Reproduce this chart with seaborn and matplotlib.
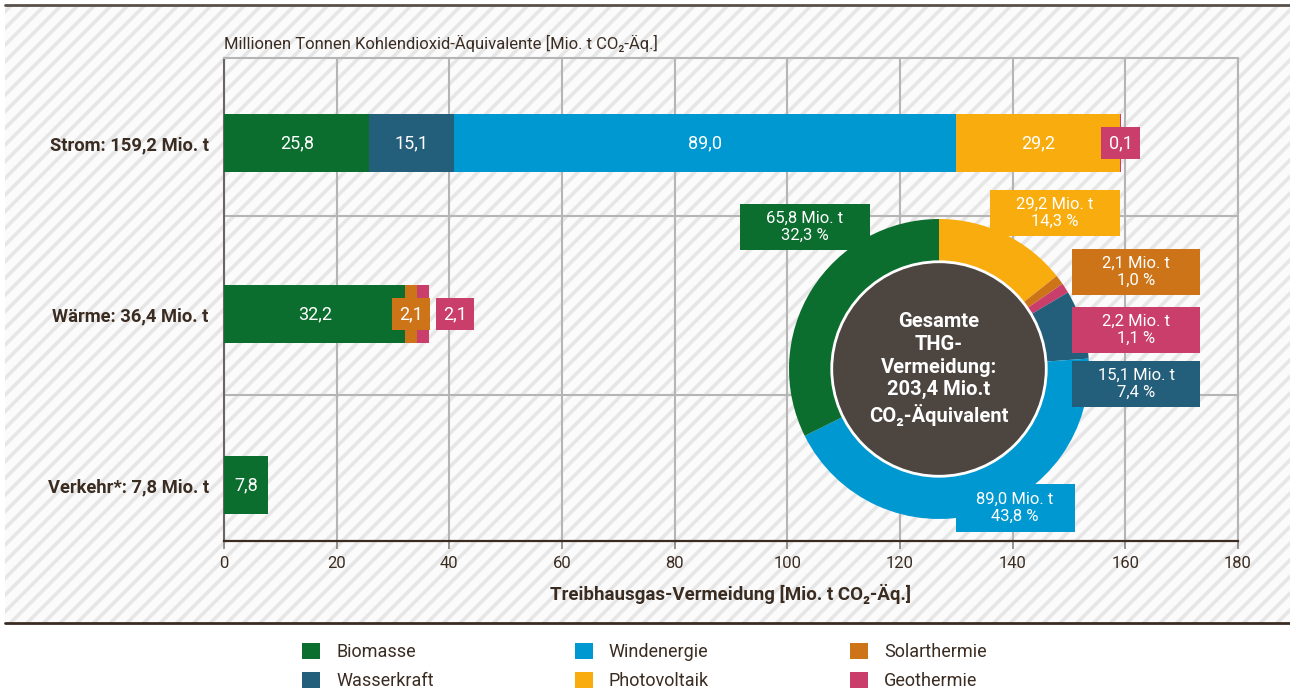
import matplotlib
matplotlib.use("Agg")
import matplotlib.pyplot as plt
from matplotlib.patches import Rectangle, Patch, Circle
from matplotlib.lines import Line2D
import seaborn as sns
import pandas as pd

# --- data -------------------------------------------------------------
categories = ["Strom: 159,2 Mio. t", "Wärme: 36,4 Mio. t", "Verkehr*: 7,8 Mio. t"]
sources = ["Biomasse", "Wasserkraft", "Windenergie", "Photovoltaik", "Solarthermie", "Geothermie"]
strom = [25.8, 15.1, 89.0, 29.2, 0.0, 0.1]
waerme = [32.2, 0.0, 0.0, 0.0, 2.1, 2.1]
verkehr = [7.8, 0.0, 0.0, 0.0, 0.0, 0.0]

donut_sources = ["Photovoltaik", "Solarthermie", "Geothermie", "Wasserkraft", "Windenergie", "Biomasse"]
donut_values = [29.2, 2.1, 2.2, 15.1, 89.0, 65.8]
donut_pct = ["14,3", "1,0", "1,1", "7,4", "43,8", "32,3"]
total_label = "203,4"

xticks = [0, 20, 40, 60, 80, 100, 120, 140, 160, 180]

colors = {
    "Biomasse": "#0b6e2f",
    "Wasserkraft": "#235e7a",
    "Windenergie": "#0098d1",
    "Photovoltaik": "#f8ac0d",
    "Solarthermie": "#cd7418",
    "Geothermie": "#c93e6a",
}
dark = "#3b2c22"
W, H = 1290, 693

sns.set_theme(style="white")
plt.rcParams["font.family"] = ["Roboto", "DejaVu Sans"]
plt.rcParams["hatch.linewidth"] = 2.6
plt.rcParams["hatch.color"] = "#e6e6e6"


def fx(x):
    return x / W


def fy(y):
    return 1 - y / H


rows = []
for cat, vals in zip(categories, [strom, waerme, verkehr]):
    cum = 0.0
    for src, v in zip(sources, vals):
        cum += v
        rows.append({"category": cat, "source": src, "value": v, "cum": cum})
df = pd.DataFrame(rows)

fig = plt.figure(figsize=(W / 100, H / 100), dpi=100)

# hatched background and the two rules
bg = Rectangle((fx(5), fy(623)), 1 - fx(5), fy(5) - fy(623), transform=fig.transFigure,
               facecolor="#fbfbfb", edgecolor="#e6e6e6", hatch="//", linewidth=0, zorder=-10)
fig.patches.append(bg)
fig.add_artist(Line2D([fx(5), 1], [fy(5), fy(5)], color="#5a504a", lw=2))
fig.add_artist(Line2D([fx(5), 1], [fy(623), fy(623)], color=dark, lw=2))

ax = fig.add_axes([fx(224), fy(541), fx(1238) - fx(224), fy(58) - fy(541)])
ax.set_facecolor("none")

# stacked bars: draw cumulative totals back to front
for src in reversed(sources):
    sub = df[(df["source"] == src) & (df["value"] > 0)]
    sns.barplot(data=sub, x="cum", y="category", order=categories, orient="h",
                color=colors[src], saturation=1, width=0.34, errorbar=None,
                linewidth=0, ax=ax, zorder=3)

label_shift = {("Wärme: 36,4 Mio. t", "Geothermie"): 5.6}
for _, r in df[df["value"] > 0].iterrows():
    yi = categories.index(r["category"])
    xc = r["cum"] - r["value"] / 2
    txt = f"{r['value']:.1f}".replace(".", ",")
    if r["value"] >= 5:
        ax.text(xc, yi, txt, ha="center", va="center", color="white", fontsize=13, zorder=5)
    else:
        xc += label_shift.get((r["category"], r["source"]), 0)
        ax.text(xc, yi, txt, ha="center", va="center", color="white", fontsize=13, zorder=6,
                bbox=dict(boxstyle="square,pad=0.4", fc=colors[r["source"]], ec="none"))

ax.set_xlim(0, 180)
ax.set_ylim(2.327, -0.497)
ax.set_xticks(xticks)
ax.set_xticklabels([str(t) for t in xticks])
ax.set_yticks([0.427, 1.474], minor=True)
ax.grid(axis="x", which="major", color="#b5b5b5", lw=1.5)
ax.grid(axis="y", which="minor", color="#b5b5b5", lw=1.5)
ax.grid(axis="y", which="major", visible=False)
ax.set_axisbelow(True)
ax.tick_params(axis="y", which="both", length=0, pad=11, labelsize=13.2, labelcolor=dark)
ax.tick_params(axis="x", which="major", direction="out", length=6, width=1.2, color="#8a817b",
               labelsize=12, labelcolor=dark, pad=5, bottom=True)
for lbl in ax.get_yticklabels():
    lbl.set_fontweight("bold")
for side in ["top", "right"]:
    ax.spines[side].set_color("#b5b5b5")
    ax.spines[side].set_linewidth(1.5)
ax.spines["left"].set_color("#6e6560")
ax.spines["left"].set_linewidth(1.5)
ax.spines["bottom"].set_color(dark)
ax.spines["bottom"].set_linewidth(1.6)

ax.set_ylabel("")
ax.set_xlabel("Treibhausgas-Vermeidung [Mio. t CO₂-Äq.]", fontsize=13.5, fontweight="bold",
              color=dark, labelpad=9)
ax.text(0, 1.031, "Millionen Tonnen Kohlendioxid-Äquivalente [Mio. t CO₂-Äq.]",
        transform=ax.transAxes, ha="left", va="center", fontsize=12, color=dark)

# donut
ax2 = fig.add_axes([fx(789), fy(519), fx(300), fy(0) - fy(300)])
ax2.pie(donut_values, colors=[colors[s] for s in donut_sources], startangle=90,
        counterclock=False, wedgeprops=dict(width=0.29, linewidth=0))
ax2.add_patch(Circle((0, 0), 0.715, facecolor="#4d4540", edgecolor="white", lw=2, zorder=5))
ax2.text(0, 0, f"Gesamte\nTHG-\nVermeidung:\n{total_label} Mio.t\nCO₂-Äquivalent",
         ha="center", va="center", color="white", fontsize=14.5, fontweight="bold",
         linespacing=1.25, zorder=6)
ax2.set_xlim(-1, 1)
ax2.set_ylim(-1, 1)

# donut labels (centre x, centre y, width, height in px)
label_boxes = {
    "Biomasse": (805, 227, 130, 46),
    "Photovoltaik": (1055, 213, 130, 46),
    "Solarthermie": (1136, 272, 128, 46),
    "Geothermie": (1136, 330, 128, 46),
    "Wasserkraft": (1136, 384, 128, 46),
    "Windenergie": (1015, 508, 119, 48),
}
for src, v, p in zip(donut_sources, donut_values, donut_pct):
    cx, cy, w, h = label_boxes[src]
    fig.patches.append(Rectangle((fx(cx - w / 2), fy(cy + h / 2)), fx(w), fy(0) - fy(h),
                                 transform=fig.transFigure, facecolor=colors[src],
                                 edgecolor="none", zorder=5))
    fig.text(fx(cx), fy(cy), f"{v:.1f}".replace(".", ",") + f" Mio. t\n{p} %",
             ha="center", va="center", color="white", fontsize=12, linespacing=1.2, zorder=6)

# legend
handles = [Patch(facecolor=colors[s], edgecolor="none") for s in sources]
fig.legend(handles, sources, ncol=3, loc="center", bbox_to_anchor=(0.4995, fy(666.5)),
           frameon=False, handlelength=1.0, handleheight=1.0, handletextpad=0.9,
           columnspacing=7.8, labelspacing=0.6, fontsize=13, labelcolor=dark)

fig.savefig("out.png", dpi=100)
